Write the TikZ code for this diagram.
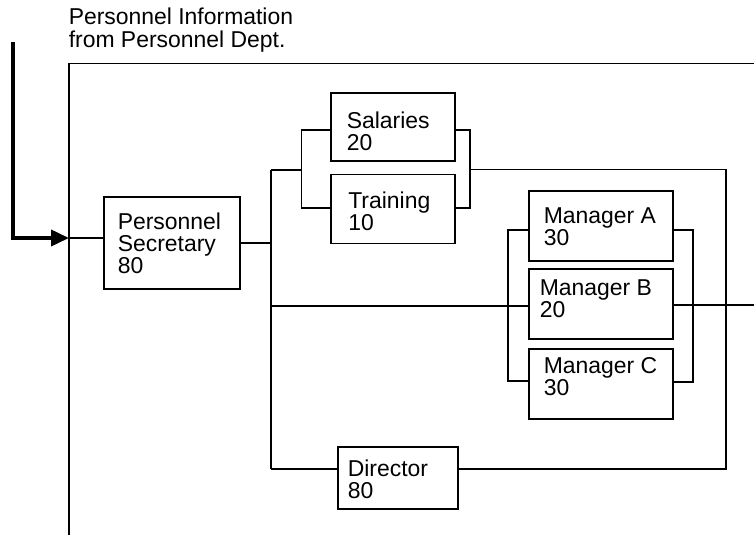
\documentclass[tikz,border=0pt]{standalone}
\usepackage{fontspec}
\setmainfont{Liberation Sans}
\usetikzlibrary{arrows.meta}

% stacked left-aligned lines with the first baseline as the node baseline
\newcommand\twolines[2]{\vtop{\hbox{#1}\hbox{#2}}}
\newcommand\threelines[3]{\vtop{\hbox{#1}\hbox{#2}\hbox{#3}}}

\tikzset{
  unitbox/.style={draw, rectangle, line width=1.25pt, inner sep=0pt, anchor=north west},
  lbl/.style={anchor=base west, inner sep=0pt, font=\fontsize{17.2}{16.6}\selectfont},
  wire/.style={line width=1.15pt},
  feed/.style={line width=2.8pt, -{Triangle[length=13.5pt,width=12pt]}}
}

\begin{document}
\begin{tikzpicture}[x=0.75pt,y=-0.75pt]
\useasboundingbox (0,0) rectangle (754,535);

% boxes
\node[unitbox, minimum width=102pt, minimum height=69pt]    (ps)  at (103,196) {};
\node[unitbox, minimum width=93pt,  minimum height=51pt]    (sal) at (330,92) {};
\node[unitbox, minimum width=93pt,  minimum height=51.75pt] (trn) at (330,173.5) {};
\node[unitbox, minimum width=108pt, minimum height=52.5pt]  (mA)  at (528,190) {};
\node[unitbox, minimum width=108pt, minimum height=52.5pt]  (mB)  at (528,268) {};
\node[unitbox, minimum width=108pt, minimum height=52.5pt]  (mC)  at (528,348) {};
\node[unitbox, minimum width=90pt,  minimum height=46.5pt]  (dir) at (337,446) {};

% labels
\node[lbl] (hdr)  at (68.5,25)    {\twolines{Personnel Information}{from Personnel Dept.}};
\node[lbl] (psT)  at (117.5,229)  {\threelines{Personnel}{Secretary}{80}};
\node[lbl] (salT) at (346.5,128)  {\twolines{Salaries}{20}};
\node[lbl] (trnT) at (348,208)    {\twolines{Training}{10}};
\node[lbl] (mAT)  at (543.5,223.5){\twolines{Manager A}{30}};
\node[lbl] (mBT)  at (539.5,295)  {\twolines{Manager B}{20}};
\node[lbl] (mCT)  at (543.5,373.5){\twolines{Manager C}{30}};
\node[lbl] (dirT) at (347.5,476)  {\twolines{Director}{80}};

% junction points
\coordinate (src)    at (13,42);
\coordinate (inlet)  at (69,238);
\coordinate (frameTL) at (69,63.5);
\coordinate (frameB) at (69,535);
\coordinate (frameR) at (754,63.5);
\coordinate (busT)   at (271,170);
\coordinate (busB)   at (271,469);
\coordinate (sL1)    at (301.5,130);
\coordinate (sL2)    at (301.5,208);
\coordinate (sR1)    at (470,130);
\coordinate (sR2)    at (470,208);
\coordinate (sOut)   at (470,169.5);
\coordinate (rTop)   at (726,169.5);
\coordinate (rBot)   at (726,469);
\coordinate (mMid)   at (271,306);
\coordinate (mL1)    at (508,230);
\coordinate (mL2)    at (508,381);
\coordinate (mR1)    at (693,230);
\coordinate (mR2)    at (693,382);
\coordinate (out)    at (754,305);

% incoming information
\draw[feed] (src) |- (inlet);

% frame
\draw[wire] (frameB) -- (frameTL) -- (frameR);

% secretary and main bus
\draw[wire] (inlet) -- (inlet -| ps.west);
\draw[wire] (ps.east) -- (ps.east -| busT);
\draw[wire] (busT) -- (busB);

% salaries / training group
\draw[wire] (busT) -- (busT -| sL1);
\draw[wire] (sal.west |- sL1) -- (sL1) -- (sL2) -- (trn.west |- sL2);
\draw[wire] (sal.east |- sR1) -- (sR1) -- (sR2) -- (trn.east |- sR2);
\draw[wire] (sOut) -- (rTop) -- (rBot) -- (dir.east |- rBot);

% director
\draw[wire] (busB) -- (dir.west |- busB);

% managers
\draw[wire] (mMid) -- (mB.west |- mMid);
\draw[wire] (mA.west |- mL1) -- (mL1) -- (mL2) -- (mC.west |- mL2);
\draw[wire] (mA.east |- mR1) -- (mR1) -- (mR2) -- (mC.east |- mR2);
\draw[wire] (mB.east |- out) -- (out);
\end{tikzpicture}
\end{document}
